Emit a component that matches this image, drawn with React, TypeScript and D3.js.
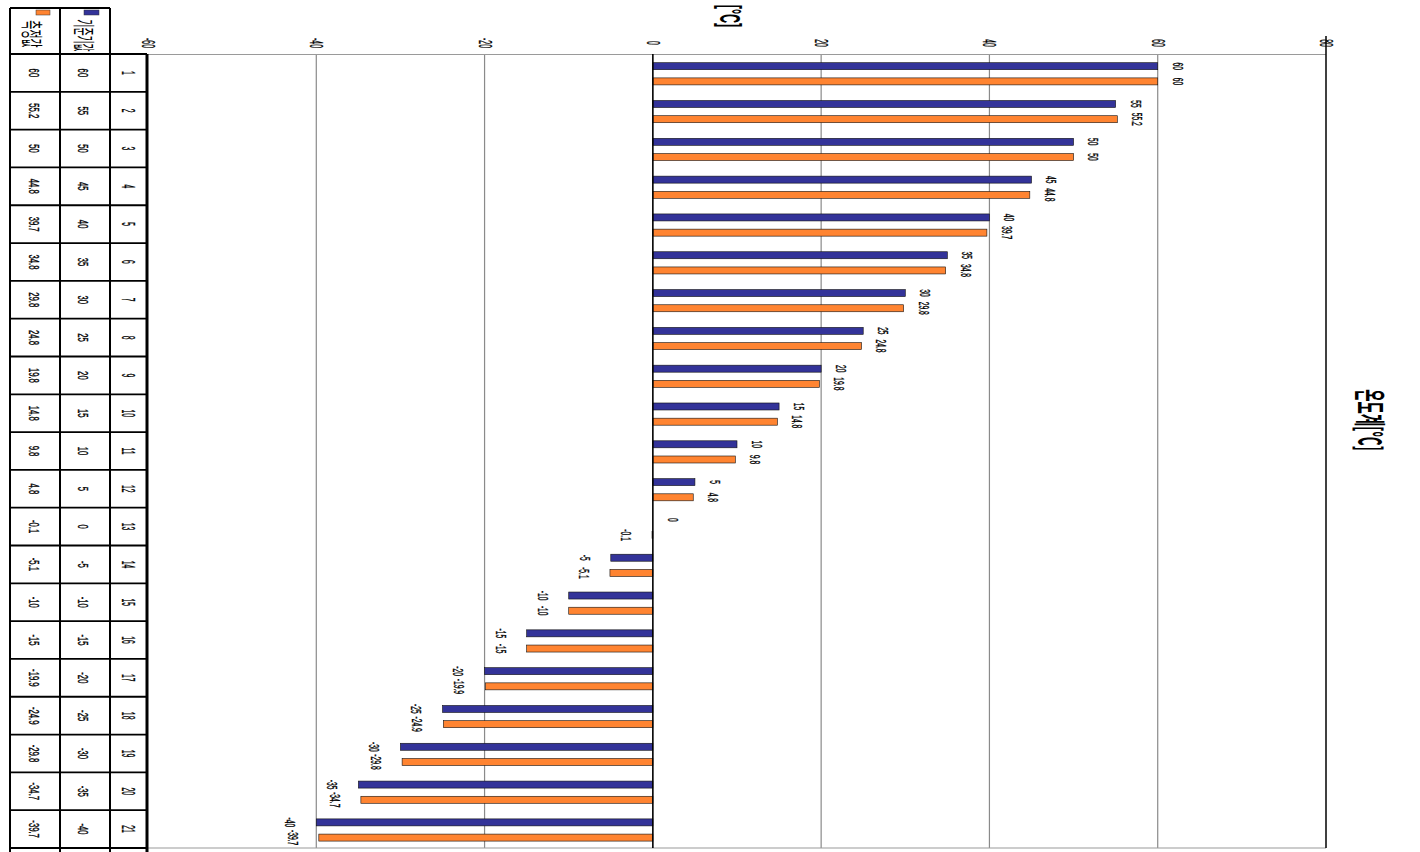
import React from 'react';
import * as d3 from 'd3';

const categories = ['1','2','3','4','5','6','7','8','9','10','11','12','13','14','15','16','17','18','19','20','21'];
const referenceValues = [60,55,50,45,40,35,30,25,20,15,10,5,0,-5,-10,-15,-20,-25,-30,-35,-40];
const measuredValues = [60,55.2,50,44.8,39.7,34.8,29.8,24.8,19.8,14.8,9.8,4.8,-0.1,-5.1,-10,-15,-19.9,-24.9,-29.8,-34.7,-39.7];
const xTicks = [-60,-40,-20,0,20,40,60,80];
const seriesNames = ['기준기값','측정값'];
const chartTitle = '온도계[°C]';
const axisTitle = '[°C]';

const W = 1420, H = 852;
const FONT = '"Liberation Sans", Arial, sans-serif';
const KFONT = '"Noto Sans CJK KR", "Noto Sans", sans-serif';

type RTProps = { x: number; y: number; size: number; sx?: number; bold?: boolean; sw?: number; family?: string; children: React.ReactNode };
function RText({ x, y, size, sx = 0.45, bold = false, sw = 0, family = FONT, children }: RTProps) {
  return (
    <text
      transform={`translate(${x},${y}) rotate(90) scale(${sx},1)`}
      textAnchor="middle"
      dominantBaseline="central"
      fontSize={size}
      fontWeight={bold ? 'bold' : 'normal'}
      fontFamily={family}
      fill="#000"
      stroke={sw > 0 ? '#000' : 'none'}
      strokeWidth={sw}
    >
      {children}
    </text>
  );
}

export default function App() {
  const x = d3.scaleLinear().domain([-60, 80]).range([148, 1326]);
  const y = d3.scaleBand<string>().domain(categories).range([54, 848]).padding(0);
  const bw = y.bandwidth();
  const barH = 7;
  const offBlue = 12.2, offOrange = 27.4;
  const blue = '#333399', orange = '#FF8431';

  const colMeas = [10, 60], colRef = [60, 110], colCat = [110, 147];

  const label = (v: number) => String(v);

  return (
    <svg width={W} height={H} style={{ position: 'absolute', left: 0, top: 0, background: '#fff' }}>
      <rect x={0} y={0} width={W} height={H} fill="#fff" />
      {/* gridlines */}
      {xTicks.filter(t => t !== 0 && t !== -60 && t !== 80).map(t => (
        <line key={'g' + t} x1={x(t)} x2={x(t)} y1={54} y2={848} stroke="#8a8a8a" strokeWidth={1.2} />
      ))}
      <line x1={148} x2={1326} y1={54.5} y2={54.5} stroke="#9a9a9a" strokeWidth={1.2} />
      <line x1={148} x2={1326} y1={848} y2={848} stroke="#9a9a9a" strokeWidth={1.2} />
      <line x1={x(80)} x2={x(80)} y1={36} y2={848} stroke="#000" strokeWidth={1.5} />

      {/* bars */}
      {categories.map((c, i) => {
        const y0 = y(c) as number;
        const rv = referenceValues[i], mv = measuredValues[i];
        return (
          <g key={'b' + c}>
            <rect x={Math.min(x(0), x(rv))} y={y0 + offBlue - barH / 2} width={Math.abs(x(rv) - x(0))} height={barH}
              fill={blue} stroke="#111" strokeWidth={0.6} />
            <rect x={Math.min(x(0), x(mv))} y={y0 + offOrange - barH / 2} width={Math.abs(x(mv) - x(0))} height={barH}
              fill={orange} stroke="#111" strokeWidth={0.6} />
          </g>
        );
      })}
      <line x1={x(0)} x2={x(0)} y1={54} y2={848} stroke="#000" strokeWidth={1.6} />

      {/* data labels */}
      {categories.map((c, i) => {
        const y0 = y(c) as number;
        const rv = referenceValues[i], mv = measuredValues[i];
        const lx = (v: number) => x(v) + (v >= 0 ? 20 : -26);
        return (
          <g key={'l' + c}>
            <RText x={lx(rv)} y={y0 + offBlue} size={14} sx={0.48} sw={0.35}>{label(rv)}</RText>
            <RText x={lx(mv)} y={y0 + offOrange} size={14} sx={0.48} sw={0.35}>{label(mv)}</RText>
          </g>
        );
      })}

      {/* tick labels */}
      {xTicks.map(t => (
        <RText key={'t' + t} x={x(t)} y={43} size={18} sx={0.38} sw={0.3}>{label(t)}</RText>
      ))}

      {/* axis title and chart title */}
      <RText x={730} y={16} size={30} sx={0.42} bold>{axisTitle}</RText>
      <RText x={1372} y={420} size={32} sx={0.42} bold family={KFONT}>{chartTitle}</RText>

      {/* data table */}
      <g>
        {categories.map((c, i) => {
          const y0 = y(c) as number;
          const cy = y0 + bw / 2;
          return (
            <g key={'r' + c}>
              <RText x={(colMeas[0] + colMeas[1]) / 2 - 1} y={cy} size={14} sx={0.55} sw={0.35}>{label(measuredValues[i])}</RText>
              <RText x={(colRef[0] + colRef[1]) / 2 - 2} y={cy} size={14} sx={0.55} sw={0.35}>{label(referenceValues[i])}</RText>
              <RText x={(colCat[0] + colCat[1]) / 2 - 1} y={cy} size={18} sx={0.38} sw={0.3}>{c}</RText>
            </g>
          );
        })}
        {d3.range(categories.length + 1).map(k => {
          const yy = 54 + k * bw;
          return <line key={'h' + k} x1={colMeas[0]} x2={colCat[1]} y1={yy} y2={yy} stroke="#000" strokeWidth={1.8} />;
        })}
        <line x1={colMeas[0]} x2={colRef[1]} y1={8} y2={8} stroke="#000" strokeWidth={1.8} />
        <line x1={colMeas[0]} x2={colMeas[0]} y1={8} y2={852} stroke="#000" strokeWidth={2} />
        <line x1={colMeas[1]} x2={colMeas[1]} y1={8} y2={852} stroke="#000" strokeWidth={2} />
        <line x1={colRef[1]} x2={colRef[1]} y1={8} y2={852} stroke="#000" strokeWidth={2} />
        <line x1={colCat[1]} x2={colCat[1]} y1={54} y2={852} stroke="#000" strokeWidth={3} />

        {/* header with legend keys */}
        <rect x={36} y={10} width={14} height={5} fill={orange} stroke="#333" strokeWidth={0.5} />
        <rect x={84} y={10} width={15} height={5} fill={blue} stroke="#333" strokeWidth={0.5} />
        <RText x={34} y={34} size={22} sx={0.45} family={KFONT}>{seriesNames[1]}</RText>
        <RText x={85} y={35.5} size={22} sx={0.4} family={KFONT}>{seriesNames[0]}</RText>
      </g>
    </svg>
  );
}
